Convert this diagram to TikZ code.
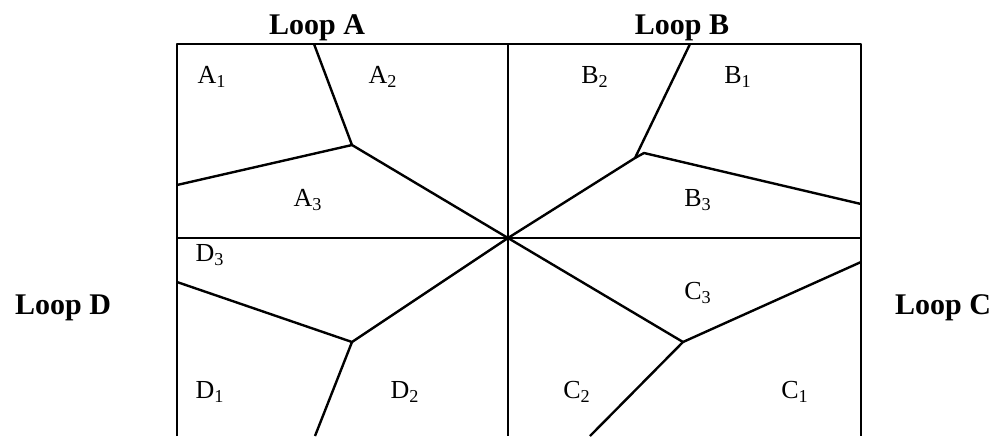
\documentclass[tikz,border=0pt]{standalone}
\usepackage{fontspec}
\setmainfont{Liberation Serif}
\usepackage{tikz}
\usetikzlibrary{positioning,calc}

\begin{document}
\begin{tikzpicture}[x=0.5pt,y=-0.5pt,
    wall/.style={line width=1.2pt,line join=round},
    zone/.style={font=\fontsize{13}{15}\selectfont,inner sep=0pt},
    looplabel/.style={font=\fontsize{15}{18}\selectfont\bfseries,inner sep=0pt}]
  \useasboundingbox (0,0) rectangle (997,436);
  % frame corners and centre
  \coordinate (tl) at (177,44);
  \coordinate (tm) at (508,44);
  \coordinate (tr) at (861,44);
  \coordinate (bl) at (177,436);
  \coordinate (bm) at (508,436);
  \coordinate (br) at (861,436);
  \coordinate (ml) at (177,238);
  \coordinate (mr) at (861,238);
  \coordinate (ctr) at (508,238);
  \draw[wall] (bl) -- (tl) -- (tr) -- (br);
  \draw[wall] (tm) -- (bm);
  \draw[wall] (ml) -- (mr);
  % loop A
  \coordinate (ja) at (352,145);
  \coordinate (atop) at (314,44);
  \coordinate (aleft) at (177,185);
  \draw[wall] (atop) -- (ja) -- (ctr);
  \draw[wall] (aleft) -- (ja);
  % loop B
  \coordinate (jb) at (644,153);
  \coordinate (jbb) at (635,158);
  \coordinate (btop) at (690,44);
  \coordinate (bright) at (861,204);
  \draw[wall] (btop) -- (jbb);
  \draw[wall] (ctr) -- (jbb) -- (jb) -- (bright);
  % loop C
  \coordinate (jc) at (683,342);
  \coordinate (cright) at (861,262);
  \coordinate (cbot) at (590,436);
  \draw[wall] (ctr) -- (jc) -- (cright);
  \draw[wall] (jc) -- (cbot);
  % loop D
  \coordinate (jd) at (352,342);
  \coordinate (dleft) at (177,282);
  \coordinate (dbot) at (315,436);
  \draw[wall] (ctr) -- (jd) -- (dleft);
  \draw[wall] (jd) -- (dbot);
  % zone labels
  \node[zone] (a1) at (212,77) {A\textsubscript{1}};
  \node[zone] (a2) at (383,77) {A\textsubscript{2}};
  \node[zone] (a3) at (308,200) {A\textsubscript{3}};
  \node[zone] (b2) at (595,77) {B\textsubscript{2}};
  \node[zone] (b1) at (738,77) {B\textsubscript{1}};
  \node[zone] (b3) at (698,200) {B\textsubscript{3}};
  \node[zone] (c3) at (698,293) {C\textsubscript{3}};
  \node[zone] (c2) at (577,392) {C\textsubscript{2}};
  \node[zone] (c1) at (795,392) {C\textsubscript{1}};
  \node[zone] (d3) at (210,255) {D\textsubscript{3}};
  \node[zone] (d1) at (210,392) {D\textsubscript{1}};
  \node[zone] (d2) at (405,392) {D\textsubscript{2}};
  % loop labels
  \node[looplabel] (loopa) at (317,28) {Loop A};
  \node[looplabel] (loopb) at (682,28) {Loop B};
  \node[looplabel] (loopc) at (943,308) {Loop C};
  \node[looplabel] (loopd) at (63,308) {Loop D};
\end{tikzpicture}
\end{document}
